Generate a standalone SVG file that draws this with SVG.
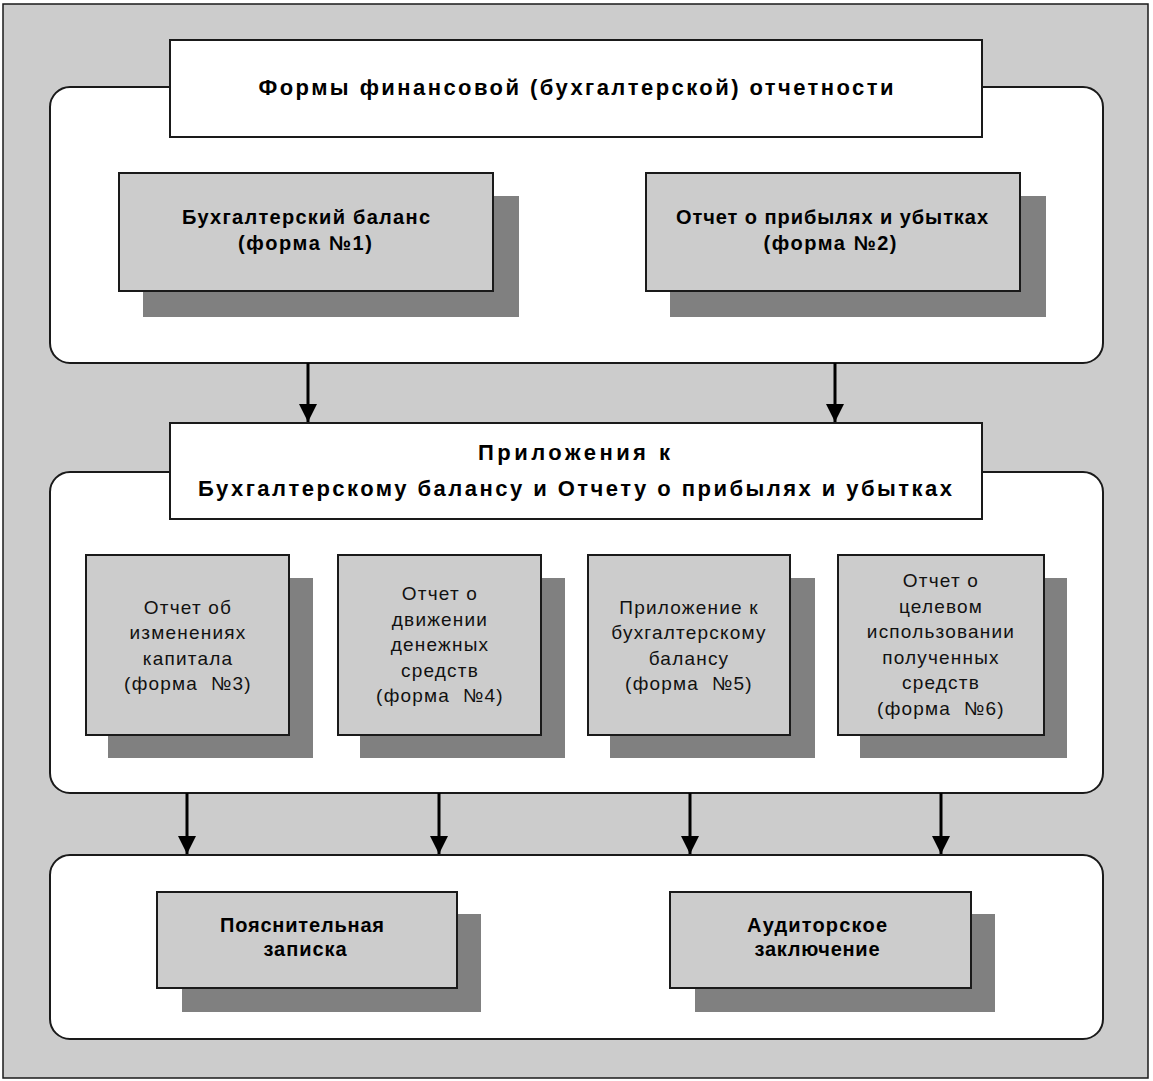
<svg xmlns="http://www.w3.org/2000/svg" width="1153" height="1081" viewBox="0 0 1153 1081">
<style>
.frame{fill:#cccccc;stroke:#1a1a1a;stroke-width:1.5}
.cont{fill:#ffffff;stroke:#1a1a1a;stroke-width:2}
.title{fill:#ffffff;stroke:#1a1a1a;stroke-width:2}
.box{fill:#cccccc;stroke:#1a1a1a;stroke-width:2}
.shadow{fill:#808080}
.tb{font-family:"Liberation Sans",Arial,sans-serif;font-weight:bold;font-size:22px;fill:#000;text-anchor:middle}
.bb{font-family:"Liberation Sans",Arial,sans-serif;font-weight:bold;font-size:20px;fill:#000;text-anchor:middle}
.tn{font-family:"Liberation Sans",Arial,sans-serif;font-size:19px;letter-spacing:1.2px;fill:#111;text-anchor:middle}
.conn{stroke:#000;stroke-width:3;fill:none}
</style>
<defs>
<marker id="arr" markerUnits="userSpaceOnUse" markerWidth="22" markerHeight="20" refX="20" refY="10" orient="auto" viewBox="0 0 22 20">
<path d="M2,1 L2,19 L20,10 Z" fill="#000"/>
</marker>
</defs>
<rect class="frame" x="3" y="4" width="1145" height="1074"/>

<g id="container-1"><rect class="cont" x="50" y="87" width="1053" height="276" rx="20"/></g>
<g id="container-2"><rect class="cont" x="50" y="472" width="1053" height="321" rx="20"/></g>
<g id="container-3"><rect class="cont" x="50" y="855" width="1053" height="184" rx="20"/></g>

<g id="connectors">
<line class="conn" x1="308" y1="363" x2="308" y2="422" marker-end="url(#arr)"/>
<line class="conn" x1="835" y1="363" x2="835" y2="422" marker-end="url(#arr)"/>
<line class="conn" x1="187" y1="793" x2="187" y2="854" marker-end="url(#arr)"/>
<line class="conn" x1="439" y1="793" x2="439" y2="854" marker-end="url(#arr)"/>
<line class="conn" x1="690" y1="793" x2="690" y2="854" marker-end="url(#arr)"/>
<line class="conn" x1="941" y1="793" x2="941" y2="854" marker-end="url(#arr)"/>
</g>

<g id="title-forms">
<rect class="title" x="170" y="40" width="812" height="97"/>
<text class="tb" x="576" y="95" textLength="635" lengthAdjust="spacing">Формы финансовой (бухгалтерской) отчетности</text>
</g>

<g id="form1">
<rect class="shadow" x="143" y="196" width="376" height="121"/>
<rect class="box" x="119" y="173" width="374" height="118"/>
<text class="bb" x="306" y="224" textLength="248" lengthAdjust="spacing">Бухгалтерский  баланс</text>
<text class="bb" x="305" y="250" textLength="134" lengthAdjust="spacing">(форма №1)</text>
</g>

<g id="form2">
<rect class="shadow" x="670" y="196" width="376" height="121"/>
<rect class="box" x="646" y="173" width="374" height="118"/>
<text class="bb" x="832" y="224" textLength="312" lengthAdjust="spacing">Отчет о прибылях и убытках</text>
<text class="bb" x="830" y="250" textLength="133" lengthAdjust="spacing">(форма №2)</text>
</g>

<g id="title-appendix">
<rect class="title" x="170" y="423" width="812" height="96"/>
<text class="tb" x="574" y="460" textLength="192" lengthAdjust="spacing">Приложения к</text>
<text class="tb" x="575" y="496" textLength="754" lengthAdjust="spacing">Бухгалтерскому балансу и Отчету о прибылях и убытках</text>
</g>

<g id="form3">
<rect class="shadow" x="108" y="578" width="205" height="180"/>
<rect class="box" x="86" y="555" width="203" height="180"/>
<text class="tn" x="188" y="614">Отчет об</text>
<text class="tn" x="188" y="639">изменениях</text>
<text class="tn" x="188" y="665">капитала</text>
<text class="tn" x="188" y="690" xml:space="preserve">(форма  №3)</text>
</g>

<g id="form4">
<rect class="shadow" x="360" y="578" width="205" height="180"/>
<rect class="box" x="338" y="555" width="203" height="180"/>
<text class="tn" x="440" y="600">Отчет о</text>
<text class="tn" x="440" y="626">движении</text>
<text class="tn" x="440" y="651">денежных</text>
<text class="tn" x="440" y="677">средств</text>
<text class="tn" x="440" y="702" xml:space="preserve">(форма  №4)</text>
</g>

<g id="form5">
<rect class="shadow" x="610" y="578" width="205" height="180"/>
<rect class="box" x="588" y="555" width="202" height="180"/>
<text class="tn" x="689" y="614">Приложение к</text>
<text class="tn" x="689" y="639">бухгалтерскому</text>
<text class="tn" x="689" y="665">балансу</text>
<text class="tn" x="689" y="690" xml:space="preserve">(форма  №5)</text>
</g>

<g id="form6">
<rect class="shadow" x="860" y="578" width="207" height="180"/>
<rect class="box" x="838" y="555" width="206" height="180"/>
<text class="tn" x="941" y="587">Отчет о</text>
<text class="tn" x="941" y="613">целевом</text>
<text class="tn" x="941" y="638">использовании</text>
<text class="tn" x="941" y="664">полученных</text>
<text class="tn" x="941" y="689">средств</text>
<text class="tn" x="941" y="715" xml:space="preserve">(форма  №6)</text>
</g>

<g id="note">
<rect class="shadow" x="182" y="914" width="299" height="98"/>
<rect class="box" x="157" y="892" width="300" height="96"/>
<text class="bb" x="302" y="932" textLength="164" lengthAdjust="spacing">Пояснительная</text>
<text class="bb" x="305" y="956" textLength="83" lengthAdjust="spacing">записка</text>
</g>

<g id="audit">
<rect class="shadow" x="695" y="914" width="300" height="98"/>
<rect class="box" x="670" y="892" width="301" height="96"/>
<text class="bb" x="817" y="932" textLength="140" lengthAdjust="spacing">Аудиторское</text>
<text class="bb" x="817" y="956" textLength="125" lengthAdjust="spacing">заключение</text>
</g>
</svg>
